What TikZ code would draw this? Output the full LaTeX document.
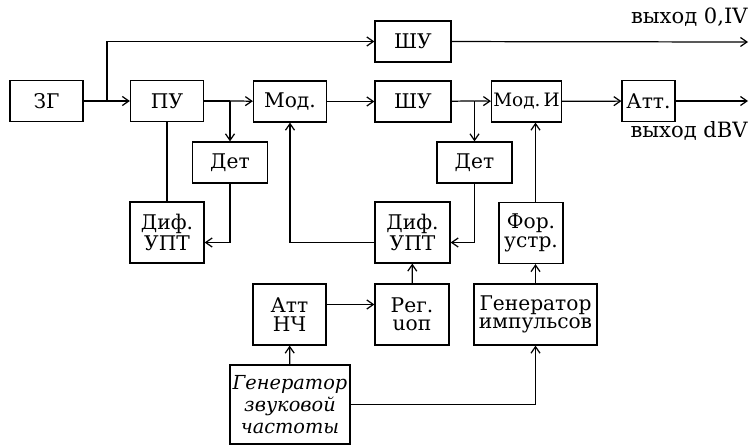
\documentclass[tikz,border=0pt]{standalone}
\usepackage{fontspec}
\setmainfont{DejaVu Serif}
\usetikzlibrary{arrows.meta,positioning,calc}

\begin{document}
\begin{tikzpicture}[
  x=0.02cm, y=-0.02cm,
  box/.style={draw, line width=0.7pt, minimum width=1.46cm, minimum height=0.82cm, inner sep=1pt, align=center, font=\fontsize{11.5}{10.5}\selectfont},
  tall/.style={box, minimum height=1.22cm},
  lbl/.style={font=\fontsize{12}{12}\selectfont, inner sep=0pt},
  arr/.style={-{Straight Barb[length=1.3mm, width=1.8mm]}, line width=0.7pt},
  ln/.style={line width=0.7pt}
]
  \useasboundingbox (0,0) rectangle (750,446);

  % main chain
  \node[box] (zg) at (46.5,101) {ЗГ};
  \node[box] (pu) at (167,101) {ПУ};
  \node[box] (mod) at (290,101.5) {Мод.};
  \node[box, minimum width=1.52cm] (shu1) at (413,41.5) {ШУ};
  \node[box, minimum width=1.52cm] (shu2) at (413,101.5) {ШУ};
  \node[box, minimum width=1.14cm, font=\fontsize{10.5}{10}\selectfont] (modi) at (526.5,101.5) {Мод.\,И};
  \node[box, minimum width=1.06cm] (att) at (648.5,101) {Атт.};

  % detectors and amplifiers
  \node[box, minimum width=1.5cm] (det1) at (230,162.5) {Дет};
  \node[box, minimum width=1.5cm] (det2) at (474.5,162.5) {Дет};
  \node[tall, minimum width=1.48cm] (dif1) at (167,232.5) {Диф.\\УПТ};
  \node[tall, minimum width=1.5cm] (dif2) at (412.5,232.5) {Диф.\\УПТ};
  \node[tall, minimum width=1.28cm] (for) at (531,233) {Фор.\\устр.};

  % low-frequency part
  \node[tall] (attnch) at (289.5,314.5) {Атт\\НЧ};
  \node[tall, minimum width=1.48cm] (reg) at (412,314.5) {Рег.\\uоп};
  \node[tall, minimum width=2.46cm] (genimp) at (535.5,314.5) {Генератор\\импульсов};
  \node[box, minimum width=2.4cm, minimum height=1.58cm, font=\fontsize{11}{12.5}\selectfont\itshape] (genz) at (290,404.5) {Генератор\\звуковой\\частоты};

  % outputs
  \coordinate (out1) at (748,42);
  \coordinate (out2) at (748,101);
  \node[lbl, anchor=east] (lab1) at (748,17) {выход 0,IV};
  \node[lbl, anchor=east] (lab2) at (748,131) {выход dBV};

  % branch points
  \coordinate (br1) at (107,101);
  \coordinate (br2) at (230,101);
  \coordinate (br3) at (474.5,101);

  \draw[ln] (zg) -- (br1);
  \draw[arr] (br1) -- (pu);
  \draw[arr] (br1) |- (shu1);
  \draw[arr] (shu1) -- (out1);
  \draw[ln] (pu) -- (br2);
  \draw[arr] (br2) -- (mod);
  \draw[arr] (br2) -- (det1);
  \draw[arr] (mod) -- (shu2);
  \draw[ln] (shu2) -- (br3);
  \draw[arr] (br3) -- (modi);
  \draw[arr] (br3) -- (det2);
  \draw[arr] (modi) -- (att);
  \draw[arr] (att) -- (out2);

  \draw[ln] (pu) -- (dif1);
  \draw[arr] (det1) |- ($(dif1.east)+(0,10)$);
  \draw[arr] (det2) |- ($(dif2.east)+(0,10)$);
  \draw[arr] ($(dif2.west)+(0,10)$) -| (mod);
  \draw[arr] (reg) -- (dif2);
  \draw[arr] ($(attnch.east)+(0,-10)$) -- ($(reg.west)+(0,-10)$);
  \draw[arr] (genz) -- (attnch);
  \draw[arr] (genz) -| (genimp);
  \draw[arr] (genimp) -- (genimp |- for.south);
  \draw[arr] (for.north -| genimp.north) -- (modi.south -| genimp.north);
\end{tikzpicture}
\end{document}
